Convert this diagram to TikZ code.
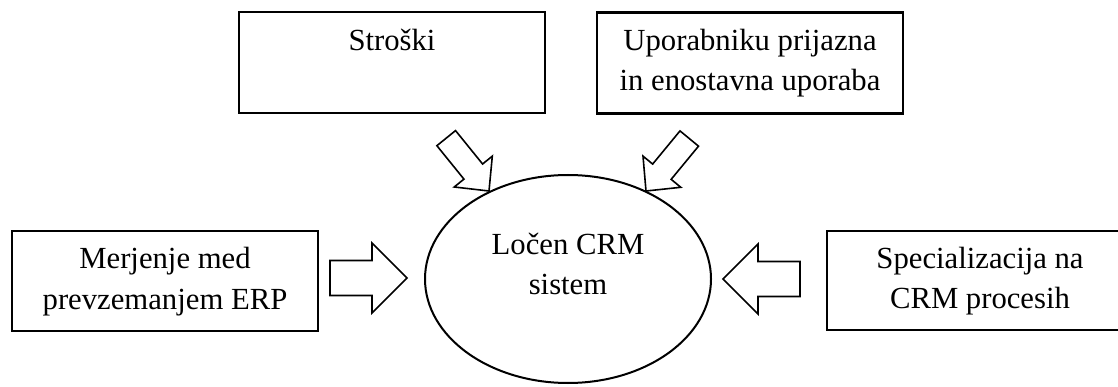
\documentclass[tikz,border=0pt]{standalone}
\usepackage{fontspec}
\setmainfont{Liberation Serif}
\usetikzlibrary{calc,shapes.geometric}

\tikzset{
  txt/.style={font=\fontsize{30.7}{40}\selectfont},
  box/.style={draw, rectangle, line width=2.6pt, minimum width=306pt,
              minimum height=101pt, inner sep=0pt, align=center, txt},
  lbl/.style={inner sep=0pt, align=center, txt},
  core/.style={draw, ellipse, line width=2pt, minimum width=286pt,
               minimum height=208pt, inner sep=0pt},
  % hollow block arrow, tip at the origin, pointing along +x
  % length / shaft half-width / head half-width / head length
  pics/blockarrow/.style args={#1/#2/#3/#4}{code={
    \draw[line width=1.6pt, line join=miter, fill=white]
      (0,0) -- (-#4,#3) -- (-#4,#2) -- (-#1,#2) -- (-#1,-#2)
      -- (-#4,-#2) -- (-#4,-#3) -- cycle;
  }},
}

\begin{document}
\begin{tikzpicture}[x=1pt, y=-1pt]
  \useasboundingbox (0,0) rectangle (1118,387);
  \clip (0,0) rectangle (1118,387);

  % factors
  \node[box] (stroski) at (392,62.5) {Stroški\strut\\\strut};
  \node[box] (upor)    at (750,63)   {Uporabniku prijazna\strut\\in enostavna uporaba\strut};
  \node[box, minimum height=100pt] (merj) at (165,281) {Merjenje med\strut\\prevzemanjem ERP\strut};
  \node[box, minimum height=99pt]  (spec) at (980,280.5) {Specializacija na\strut\\CRM procesih\strut};

  % central system
  \node[core] (crm) at (568,279) {};
  \node[lbl] (crmtext) at ($(crm.center)+(0,-12.5)$) {Ločen CRM\strut\\sistem\strut};

  % block arrows pointing at the system
  \pic at ($(crm.west)+(-17,-1)$) {blockarrow=77/17.5/35/35};
  \pic[rotate=180] at ($(crm.east)+(11,0)$) {blockarrow=77/17.5/35/35};
  \pic[rotate=-51] at ($(crm.center)+(-79,-88)$) {blockarrow=68/12/24.5/25};
  \pic[rotate=-129.5] at ($(crm.center)+(78,-88)$) {blockarrow=68/12/24.5/25};
\end{tikzpicture}
\end{document}
